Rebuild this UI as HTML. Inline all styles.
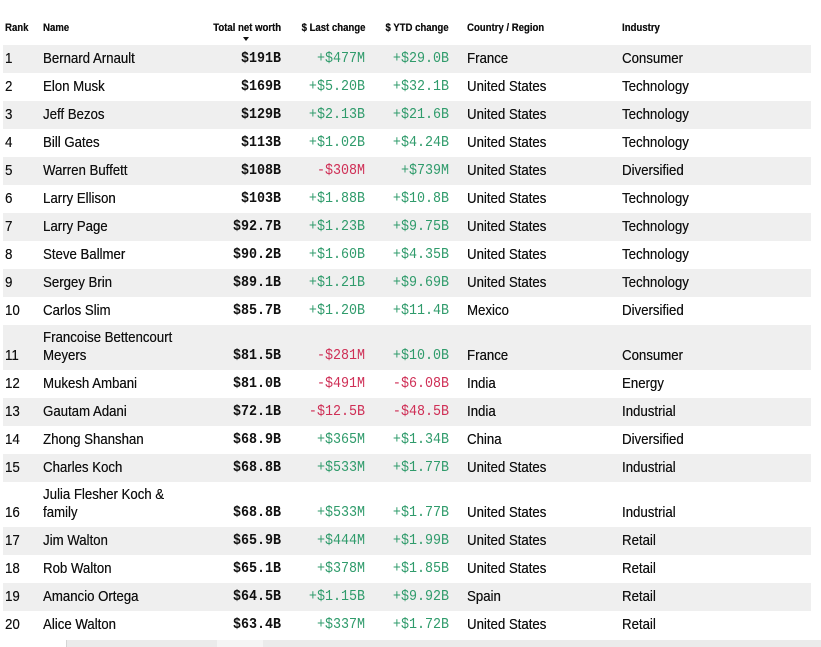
<!DOCTYPE html>
<html><head><meta charset="utf-8">
<style>
html,body{margin:0;padding:0;background:#fff;}
body{width:821px;height:647px;position:relative;overflow:hidden;font-family:"Liberation Sans",Arial,sans-serif;color:#111;}
.h{position:absolute;top:21px;font-size:11px;font-weight:bold;line-height:14px;color:#111;white-space:nowrap;transform:scaleX(0.87);text-shadow:0.2px 0 0 #111;}
.hl{transform-origin:left center;}
.hr{transform-origin:right center;}
.tri{position:absolute;left:243px;top:37px;width:0;height:0;border-left:3px solid transparent;border-right:3px solid transparent;border-top:4px solid #111;}
.r{position:absolute;left:3px;width:808px;height:28px;}
.g{background:#efefef;}
.c{position:absolute;bottom:5px;line-height:18px;font-size:15px;white-space:nowrap;text-shadow:0.2px 0 0 currentColor;}
.L{transform:scaleX(0.88);transform-origin:left bottom;}
.rk{left:2px;}
.nm{left:40px;}
.m{font-family:"Liberation Mono",monospace;font-size:15px;transform:scaleX(0.89);transform-origin:right bottom;text-shadow:none;}
.nw{right:530px;font-weight:bold;}
.lc{right:446px;}
.yc{right:362px;}
.co{left:464px;}
.in{left:619px;}
.p{color:#2f9b6b;}
.n{color:#cf2f56;}
.bot{position:absolute;top:640px;left:0;width:821px;height:7px;background:#ebebeb;}
.bw{position:absolute;left:0;top:0;width:66px;height:7px;background:#fff;border-right:1px solid #d5d5d5;}
.bl{position:absolute;left:217px;top:0;width:46px;height:7px;background:#f5f5f5;}
</style></head><body>
<div class="h hl" style="left:5px">Rank</div>
<div class="h hl" style="left:43px">Name</div>
<div class="h hr" style="right:540px">Total net worth</div>
<div class="tri"></div>
<div class="h hr" style="right:456px">$ Last change</div>
<div class="h hr" style="right:372px">$ YTD change</div>
<div class="h hl" style="left:467px">Country / Region</div>
<div class="h hl" style="left:622px">Industry</div>

<div class="r g" style="top:45px"><span class="c L rk">1</span><span class="c L nm">Bernard Arnault</span><span class="c m nw">$191B</span><span class="c m lc p">+$477M</span><span class="c m yc p">+$29.0B</span><span class="c L co">France</span><span class="c L in">Consumer</span></div>
<div class="r" style="top:73px"><span class="c L rk">2</span><span class="c L nm">Elon Musk</span><span class="c m nw">$169B</span><span class="c m lc p">+$5.20B</span><span class="c m yc p">+$32.1B</span><span class="c L co">United States</span><span class="c L in">Technology</span></div>
<div class="r g" style="top:101px"><span class="c L rk">3</span><span class="c L nm">Jeff Bezos</span><span class="c m nw">$129B</span><span class="c m lc p">+$2.13B</span><span class="c m yc p">+$21.6B</span><span class="c L co">United States</span><span class="c L in">Technology</span></div>
<div class="r" style="top:129px"><span class="c L rk">4</span><span class="c L nm">Bill Gates</span><span class="c m nw">$113B</span><span class="c m lc p">+$1.02B</span><span class="c m yc p">+$4.24B</span><span class="c L co">United States</span><span class="c L in">Technology</span></div>
<div class="r g" style="top:157px"><span class="c L rk">5</span><span class="c L nm">Warren Buffett</span><span class="c m nw">$108B</span><span class="c m lc n">-$308M</span><span class="c m yc p">+$739M</span><span class="c L co">United States</span><span class="c L in">Diversified</span></div>
<div class="r" style="top:185px"><span class="c L rk">6</span><span class="c L nm">Larry Ellison</span><span class="c m nw">$103B</span><span class="c m lc p">+$1.88B</span><span class="c m yc p">+$10.8B</span><span class="c L co">United States</span><span class="c L in">Technology</span></div>
<div class="r g" style="top:213px"><span class="c L rk">7</span><span class="c L nm">Larry Page</span><span class="c m nw">$92.7B</span><span class="c m lc p">+$1.23B</span><span class="c m yc p">+$9.75B</span><span class="c L co">United States</span><span class="c L in">Technology</span></div>
<div class="r" style="top:241px"><span class="c L rk">8</span><span class="c L nm">Steve Ballmer</span><span class="c m nw">$90.2B</span><span class="c m lc p">+$1.60B</span><span class="c m yc p">+$4.35B</span><span class="c L co">United States</span><span class="c L in">Technology</span></div>
<div class="r g" style="top:269px"><span class="c L rk">9</span><span class="c L nm">Sergey Brin</span><span class="c m nw">$89.1B</span><span class="c m lc p">+$1.21B</span><span class="c m yc p">+$9.69B</span><span class="c L co">United States</span><span class="c L in">Technology</span></div>
<div class="r" style="top:297px"><span class="c L rk">10</span><span class="c L nm">Carlos Slim</span><span class="c m nw">$85.7B</span><span class="c m lc p">+$1.20B</span><span class="c m yc p">+$11.4B</span><span class="c L co">Mexico</span><span class="c L in">Diversified</span></div>
<div class="r g" style="top:325px;height:45px"><span class="c L rk">11</span><span class="c L nm">Francoise Bettencourt<br>Meyers</span><span class="c m nw">$81.5B</span><span class="c m lc n">-$281M</span><span class="c m yc p">+$10.0B</span><span class="c L co">France</span><span class="c L in">Consumer</span></div>
<div class="r" style="top:370px"><span class="c L rk">12</span><span class="c L nm">Mukesh Ambani</span><span class="c m nw">$81.0B</span><span class="c m lc n">-$491M</span><span class="c m yc n">-$6.08B</span><span class="c L co">India</span><span class="c L in">Energy</span></div>
<div class="r g" style="top:398px"><span class="c L rk">13</span><span class="c L nm">Gautam Adani</span><span class="c m nw">$72.1B</span><span class="c m lc n">-$12.5B</span><span class="c m yc n">-$48.5B</span><span class="c L co">India</span><span class="c L in">Industrial</span></div>
<div class="r" style="top:426px"><span class="c L rk">14</span><span class="c L nm">Zhong Shanshan</span><span class="c m nw">$68.9B</span><span class="c m lc p">+$365M</span><span class="c m yc p">+$1.34B</span><span class="c L co">China</span><span class="c L in">Diversified</span></div>
<div class="r g" style="top:454px"><span class="c L rk">15</span><span class="c L nm">Charles Koch</span><span class="c m nw">$68.8B</span><span class="c m lc p">+$533M</span><span class="c m yc p">+$1.77B</span><span class="c L co">United States</span><span class="c L in">Industrial</span></div>
<div class="r" style="top:482px;height:45px"><span class="c L rk">16</span><span class="c L nm">Julia Flesher Koch &amp;<br>family</span><span class="c m nw">$68.8B</span><span class="c m lc p">+$533M</span><span class="c m yc p">+$1.77B</span><span class="c L co">United States</span><span class="c L in">Industrial</span></div>
<div class="r g" style="top:527px"><span class="c L rk">17</span><span class="c L nm">Jim Walton</span><span class="c m nw">$65.9B</span><span class="c m lc p">+$444M</span><span class="c m yc p">+$1.99B</span><span class="c L co">United States</span><span class="c L in">Retail</span></div>
<div class="r" style="top:555px"><span class="c L rk">18</span><span class="c L nm">Rob Walton</span><span class="c m nw">$65.1B</span><span class="c m lc p">+$378M</span><span class="c m yc p">+$1.85B</span><span class="c L co">United States</span><span class="c L in">Retail</span></div>
<div class="r g" style="top:583px"><span class="c L rk">19</span><span class="c L nm">Amancio Ortega</span><span class="c m nw">$64.5B</span><span class="c m lc p">+$1.15B</span><span class="c m yc p">+$9.92B</span><span class="c L co">Spain</span><span class="c L in">Retail</span></div>
<div class="r" style="top:611px"><span class="c L rk">20</span><span class="c L nm">Alice Walton</span><span class="c m nw">$63.4B</span><span class="c m lc p">+$337M</span><span class="c m yc p">+$1.72B</span><span class="c L co">United States</span><span class="c L in">Retail</span></div>

<div class="bot"><div class="bw"></div><div class="bl"></div></div>
</body></html>
